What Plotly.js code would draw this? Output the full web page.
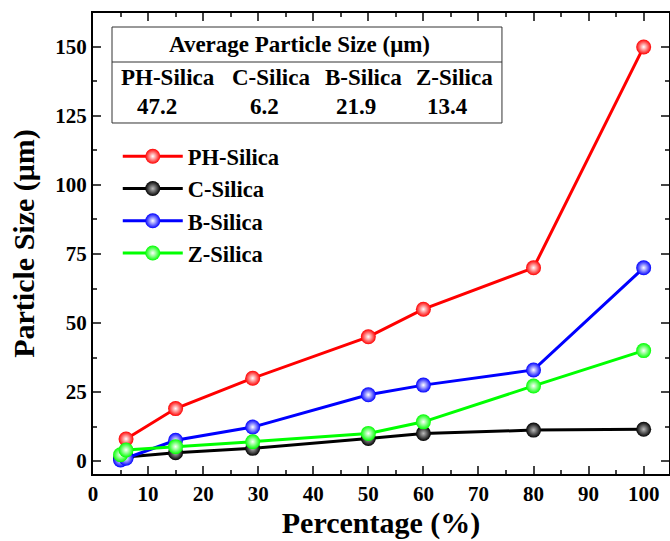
<!DOCTYPE html>
<html>
<head>
<meta charset="utf-8">
<script src="https://cdn.plot.ly/plotly-3.0.1.min.js"></script>
<style>html,body{margin:0;padding:0;background:#fff}#chart{width:670px;height:541px}</style>
</head>
<body>
<div id="chart"></div>
<script>
// ---- data ----
const seriesNames = ["PH-Silica", "C-Silica", "B-Silica", "Z-Silica"];
const pctPH = [6, 15, 29, 50, 60, 80, 100];
const sizePH = [8, 19, 30, 45, 55, 70, 150];
const pctC = [5, 6, 15, 29, 50, 60, 80, 100];
const sizeC = [1, 1.5, 3, 4.6, 8.2, 10, 11.2, 11.5];
const pctB = [5, 6, 15, 29, 50, 60, 80, 100];
const sizeB = [0.4, 1, 7.5, 12.3, 24, 27.5, 33, 70];
const pctZ = [5, 6, 15, 29, 50, 60, 80, 100];
const sizeZ = [2.3, 4, 5.2, 7, 10, 14.2, 27.2, 40];
const tableTitle = "Average Particle Size (μm)";
const tableNames = ["PH-Silica", "C-Silica", "B-Silica", "Z-Silica"];
const tableAvg = ["47.2", "6.2", "21.9", "13.4"];
const xTitle = "Percentage (%)";
const yTitle = "Particle Size (μm)";

const colors = ["#FF0000", "#000000", "#0000FF", "#00FF00"];
const xs = [pctPH, pctC, pctB, pctZ];
const ys = [sizePH, sizeC, sizeB, sizeZ];
const FONT = "Liberation Serif";

const traces = seriesNames.map((n, i) => ({
  type: "scatter", mode: "lines+markers", name: n,
  x: xs[i], y: ys[i],
  line: {color: colors[i], width: 3},
  marker: {color: colors[i], size: 15, line: {width: 0},
           gradient: {type: "radial", color: i === 1 ? "#bbbbbb" : "#ffffff"}}
}));

// table layout positions (paper coords)
const labelX = [0.130, 0.309, 0.470, 0.627];
const valueX = [0.111, 0.297, 0.457, 0.616];
const tf = {family: FONT, size: 23, weight: "bold", color: "#000"};
const annotations = [
  {text: tableTitle, x: 0.359, y: 0.9306, xref: "paper", yref: "paper", showarrow: false,
   font: tf, xanchor: "center", yanchor: "middle"}
];
tableNames.forEach((t, i) => annotations.push({text: t, x: labelX[i], y: 0.861, xref: "paper", yref: "paper",
  showarrow: false, font: tf, xanchor: "center", yanchor: "middle"}));
tableAvg.forEach((t, i) => annotations.push({text: t, x: valueX[i], y: 0.798, xref: "paper", yref: "paper",
  showarrow: false, font: tf, xanchor: "center", yanchor: "middle"}));

const layout = {
  width: 670, height: 541,
  margin: {l: 93, r: 1, t: 13, b: 67},
  paper_bgcolor: "#fff", plot_bgcolor: "#fff",
  font: {family: FONT, size: 20, weight: "bold", color: "#000"},
  showlegend: true,
  legend: {x: 0.043, y: 0.735, xanchor: "left", yanchor: "top", bgcolor: "rgba(0,0,0,0)",
           font: {family: FONT, size: 22.5, weight: "bold", color: "#000"}, itemwidth: 60},
  xaxis: {range: [0, 104.6], tick0: 0, dtick: 10, ticks: "inside", ticklen: 8, tickwidth: 2,
          minor: {dtick: 5, ticks: "inside", ticklen: 4, tickwidth: 2},
          showline: true, linewidth: 2, linecolor: "#000", mirror: "allticks", showgrid: false, zeroline: false,
          tickfont: {family: FONT, size: 21, weight: "bold", color: "#000"},
          title: {text: xTitle, font: {family: FONT, size: 30, weight: "bold", color: "#000"}, standoff: 6}},
  yaxis: {range: [-4.7, 162.3], tick0: 0, dtick: 25, ticks: "inside", ticklen: 8, tickwidth: 2,
          minor: {dtick: 12.5, ticks: "inside", ticklen: 4, tickwidth: 2},
          showline: true, linewidth: 2, linecolor: "#000", mirror: "allticks", showgrid: false, zeroline: false,
          tickfont: {family: FONT, size: 21, weight: "bold", color: "#000"},
          title: {text: yTitle, font: {family: FONT, size: 30, weight: "bold", color: "#000"}, standoff: 12}},
  shapes: [
    {type: "rect", xref: "paper", yref: "paper", x0: 0.033, x1: 0.710, y0: 0.7614, y1: 0.9696,
     line: {color: "#333", width: 1}, fillcolor: "rgba(0,0,0,0)"},
    {type: "line", xref: "paper", yref: "paper", x0: 0.033, x1: 0.710, y0: 0.8937, y1: 0.8937,
     line: {color: "#333", width: 1}}
  ],
  annotations: annotations
};

Plotly.newPlot("chart", traces, layout, {displayModeBar: false, staticPlot: true});
</script>
</body>
</html>
